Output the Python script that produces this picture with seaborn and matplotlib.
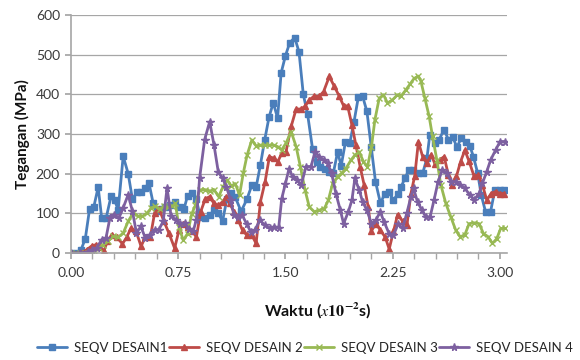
import numpy as np
import pandas as pd
import matplotlib
matplotlib.use("Agg")
import matplotlib.pyplot as plt
import seaborn as sns
from matplotlib.ticker import MultipleLocator

# ---------------- data ----------------
x1 = [0.00, 0.04, 0.07, 0.10, 0.13, 0.16, 0.19, 0.215, 0.245, 0.28, 0.305, 0.33, 0.365, 0.40, 0.43,
      0.46, 0.49, 0.52, 0.545, 0.575, 0.60, 0.63, 0.66, 0.69, 0.725, 0.76, 0.79, 0.815, 0.845, 0.875,
      0.905, 0.94, 0.97, 1.00, 1.03, 1.06, 1.09, 1.12, 1.15, 1.19, 1.23, 1.265, 1.295, 1.325, 1.355,
      1.385, 1.415, 1.445, 1.47, 1.50, 1.53, 1.565, 1.595, 1.625, 1.655, 1.69, 1.72, 1.745, 1.775,
      1.805, 1.835, 1.865, 1.89, 1.92, 1.95, 1.98, 2.01, 2.04, 2.07, 2.10, 2.13, 2.165, 2.195, 2.225,
      2.255, 2.285, 2.31, 2.335, 2.365, 2.395, 2.425, 2.46, 2.49, 2.51, 2.545, 2.575, 2.61, 2.64, 2.67,
      2.70, 2.73, 2.76, 2.79, 2.815, 2.845, 2.87, 2.90, 2.935, 2.965, 3.00, 3.03]
y1 = [0, 0, 8, 36, 111, 117, 166, 87, 87, 143, 133, 109, 244, 200, 135,
      153, 153, 164, 177, 125, 105, 110, 115, 120, 129, 116, 110, 144, 152, 137,
      91, 89, 95, 108, 101, 80, 135, 151, 140, 105, 135, 171, 166, 222, 285,
      342, 379, 340, 454, 497, 530, 543, 507, 400, 350, 262, 230, 218, 211,
      205, 201, 255, 220, 280, 277, 331, 393, 395, 357, 268, 180, 125, 150, 154,
      133, 148, 167, 188, 210, 210, 201, 201, 239, 298, 277, 286, 311, 286, 292,
      267, 290, 279, 270, 243, 201, 146, 104, 104, 159, 159, 159]

x2 = [0.00, 0.06, 0.11, 0.145, 0.175, 0.20, 0.23, 0.255, 0.285, 0.32, 0.36, 0.39, 0.42, 0.455, 0.49,
      0.52, 0.555, 0.585, 0.615, 0.65, 0.685, 0.725, 0.755, 0.785, 0.82, 0.85, 0.877, 0.907, 0.94, 0.97,
      1.00, 1.03, 1.06, 1.087, 1.11, 1.14, 1.17, 1.20, 1.23, 1.265, 1.295, 1.325, 1.358, 1.388, 1.418,
      1.446, 1.474, 1.504, 1.54, 1.575, 1.61, 1.637, 1.667, 1.70, 1.737, 1.767, 1.807, 1.842, 1.877,
      1.907, 1.935, 1.965, 1.993, 2.023, 2.051, 2.079, 2.10, 2.133, 2.165, 2.198, 2.226, 2.256, 2.285,
      2.32, 2.35, 2.378, 2.405, 2.43, 2.46, 2.49, 2.52, 2.545, 2.58, 2.61, 2.64, 2.666, 2.696, 2.725,
      2.755, 2.785, 2.82, 2.848, 2.878, 2.908, 2.94, 2.97, 3.00, 3.03]
y2 = [0, 0, 8, 18, 21, 15, 5, 30, 46, 40, 23, 40, 63, 55, 17,
      40, 40, 101, 112, 80, 50, 12, 57, 74, 66, 55, 40, 104, 137, 142,
      125, 120, 129, 142, 125, 104, 83, 57, 45, 45, 24, 129, 180, 243, 239,
      230, 251, 255, 319, 363, 363, 370, 386, 395, 395, 407, 445, 420, 395,
      371, 371, 323, 272, 217, 171, 116, 55, 74, 57, 40, 10, 55, 97,
      80, 70, 150, 195, 280, 243, 227, 248, 225, 235, 243, 197, 172, 193, 230,
      259, 231, 193, 197, 172, 134, 150, 155, 150, 150]

x3 = [0.00, 0.06, 0.12, 0.16, 0.195, 0.225, 0.26, 0.295, 0.33, 0.365, 0.40, 0.435, 0.47, 0.50, 0.533,
      0.563, 0.59, 0.62, 0.65, 0.68, 0.71, 0.73, 0.755, 0.785, 0.815, 0.845, 0.87, 0.90, 0.935, 0.97,
      1.00, 1.033, 1.063, 1.093, 1.121, 1.149, 1.179, 1.205, 1.232, 1.265, 1.295, 1.325, 1.358, 1.388,
      1.418, 1.446, 1.474, 1.504, 1.54, 1.575, 1.605, 1.637, 1.667, 1.702, 1.737, 1.772, 1.80, 1.83,
      1.865, 1.893, 1.923, 1.958, 1.986, 2.016, 2.046, 2.074, 2.102, 2.126, 2.156, 2.186, 2.214, 2.249,
      2.284, 2.31, 2.34, 2.37, 2.40, 2.43, 2.447, 2.475, 2.505, 2.529, 2.559, 2.587, 2.622, 2.657, 2.692,
      2.722, 2.754, 2.785, 2.82, 2.855, 2.885, 2.918, 2.948, 2.978, 3.006, 3.035]
y3 = [0, 0, 0, 5, 12, 21, 30, 42, 40, 50, 80, 101, 93, 93, 101,
      114, 118, 110, 118, 115, 118, 125, 66, 32, 49, 99, 120, 159, 160, 156,
      160, 142, 167, 184, 169, 175, 146, 201, 247, 285, 270, 272, 272, 272,
      272, 268, 260, 277, 306, 268, 217, 159, 116, 104, 108, 112, 133, 175,
      192, 201, 213, 234, 247, 255, 230, 217, 268, 336, 390, 399, 378, 386,
      399, 396, 410, 425, 440, 446, 434, 391, 345, 294, 235, 172, 125, 91, 57,
      41, 45, 74, 76, 74, 49, 41, 24, 36, 62, 62]

x4 = [0.00, 0.06, 0.12, 0.15, 0.18, 0.215, 0.245, 0.272, 0.30, 0.335, 0.365, 0.40, 0.43, 0.458, 0.488,
      0.52, 0.55, 0.585, 0.615, 0.645, 0.672, 0.70, 0.733, 0.765, 0.795, 0.825, 0.855, 0.877, 0.90,
      0.935, 0.97, 1.00, 1.03, 1.06, 1.087, 1.117, 1.14, 1.168, 1.198, 1.228, 1.258, 1.286, 1.321,
      1.356, 1.39, 1.42, 1.453, 1.474, 1.50, 1.525, 1.551, 1.581, 1.61, 1.644, 1.679, 1.707, 1.737,
      1.767, 1.795, 1.823, 1.853, 1.884, 1.907, 1.94, 1.965, 1.986, 2.016, 2.04, 2.07, 2.102, 2.133,
      2.163, 2.191, 2.225, 2.256, 2.289, 2.319, 2.349, 2.378, 2.396, 2.424, 2.455, 2.482, 2.512, 2.54,
      2.568, 2.598, 2.629, 2.661, 2.692, 2.722, 2.754, 2.792, 2.82, 2.855, 2.878, 2.908, 2.936, 2.971,
      3.001, 3.034]
y4 = [0, 0, 3, 8, 13, 34, 38, 88, 97, 88, 114, 147, 105, 50, 67,
      38, 46, 59, 59, 80, 164, 93, 84, 74, 76, 60, 55, 84, 190,
      286, 331, 273, 205, 188, 167, 133, 95, 91, 95, 74, 53, 57, 83,
      70, 62, 66, 64, 137, 175, 212, 192, 184, 171, 218, 218, 255, 243,
      234, 226, 201, 150, 108, 74, 104, 133, 188, 159, 129, 108, 74, 83,
      104, 78, 49, 45, 74, 62, 100, 142, 163, 129, 108, 91, 91, 134,
      180, 210, 201, 180, 180, 172, 163, 146, 134, 150, 176, 205, 235, 260,
      281, 281]

series_names = ["SEQV DESAIN1", "SEQV DESAIN 2", "SEQV DESAIN 3", "SEQV DESAIN 4"]
x_ticks = [0.0, 0.75, 1.5, 2.25, 3.0]
x_tick_labels = ["0.00", "0.75", "1.50", "2.25", "3.00"]
y_ticks = [0, 100, 200, 300, 400, 500, 600]

for xs, ys in [(x1, y1), (x2, y2), (x3, y3), (x4, y4)]:
    assert len(xs) == len(ys), (len(xs), len(ys))

# ---------------- styling ----------------
sns.set_theme(style="white")
plt.rcParams['font.family'] = ['Lato', 'DejaVu Sans']
plt.rcParams['mathtext.fontset'] = 'stix'

colors = ["#4A7EBB", "#BE4B48", "#98B954", "#7D60A0"]
markers = ["s", "^", "x", "*"]
msizes = [4.5, 4.5, 4.5, 5.5]

frames = []
for name, xs, ys in zip(series_names, [x1, x2, x3, x4], [y1, y2, y3, y4]):
    frames.append(pd.DataFrame({"t": xs, "v": ys, "series": name}))
df = pd.concat(frames, ignore_index=True)

W, H = 580, 360
fig = plt.figure(figsize=(5.8, 3.6), dpi=100)
ax = fig.add_axes([71 / W, 1 - 253 / H, 436 / W, 238 / H])

for name, c, m, ms in zip(series_names, colors, markers, msizes):
    sub = df[df["series"] == name]
    sns.lineplot(data=sub, x="t", y="v", ax=ax, color=c, marker=m, markersize=ms,
                 markeredgecolor=c, markeredgewidth=1.0, linewidth=2.0,
                 sort=False, estimator=None, label=name)

ax.set_xlim(0, 3.05)
ax.set_ylim(0, 600)
ax.set_yticks(y_ticks)
ax.set_xticks(x_ticks)
ax.set_xticklabels(x_tick_labels)
ax.xaxis.set_minor_locator(MultipleLocator(0.15))
ax.grid(axis="y", color="#A6A6A6", linewidth=0.9)
ax.set_axisbelow(True)
for s in ["top", "right"]:
    ax.spines[s].set_visible(False)
for s in ["left", "bottom"]:
    ax.spines[s].set_color("#A6A6A6")
    ax.spines[s].set_linewidth(1.2)
ax.tick_params(axis="both", which="both", direction="out", length=4, color="#A6A6A6",
               labelsize=10, labelcolor="#3A3A3A", bottom=True, left=True)
ax.tick_params(axis="x", pad=6)
ax.tick_params(axis="y", pad=4)

ax.set_ylabel("Tegangan (MPa)", fontsize=11, fontweight="bold", color="#111111")
ax.yaxis.set_label_coords((22 - 71) / 436, 0.5)
ax.yaxis.label.set_va("center")

ax.set_xlabel(r"Waktu ($\mathit{x}\mathbf{10^{-2}}$s)", fontsize=11.5, fontweight="bold",
              color="#111111")
ax.xaxis.set_label_coords((318 - 71) / 436, (253 - 310) / 238)
ax.xaxis.label.set_va("center")

ax.legend(loc="center", bbox_to_anchor=((305 - 71) / 436, (253 - 348) / 238), ncol=4,
          frameon=False, fontsize=9.5, handlelength=2.3, columnspacing=0.1,
          handletextpad=0.5, borderaxespad=0, borderpad=0)

fig.savefig("out.png", dpi=100)
